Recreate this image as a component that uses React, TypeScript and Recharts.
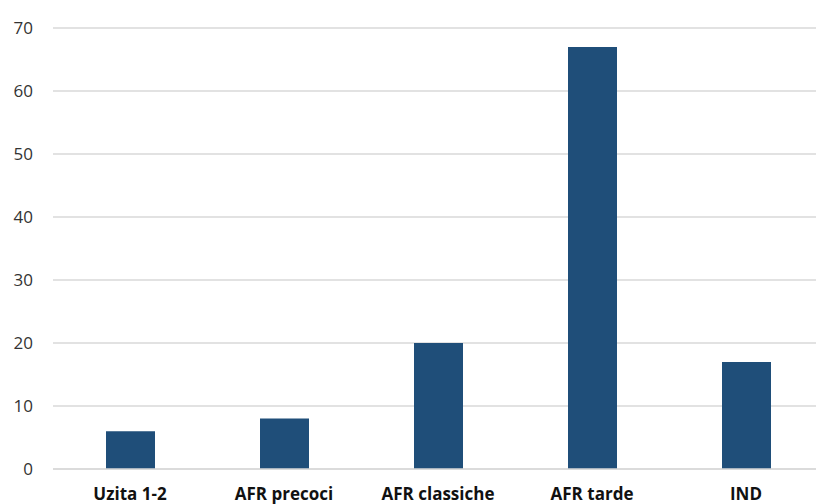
import React from "react";
import { BarChart, Bar, XAxis, YAxis, CartesianGrid } from "recharts";

const categories = ["Uzita 1-2", "AFR precoci", "AFR classiche", "AFR tarde", "IND"];
const values = [6, 8, 20, 67, 17];
const yTicks = [0, 10, 20, 30, 40, 50, 60, 70];

const data = categories.map((name, i) => ({ name, value: values[i] }));

export default function App() {
  return (
    <div style={{ position: "absolute", left: 0, top: 0, width: 900, height: 504 }}>
      <style>{"html,body{overflow:hidden;margin:0}"}</style>
      <BarChart
        width={832}
        height={504}
        data={data}
        margin={{ top: 28, right: 9, bottom: 0, left: 8 }}
      >
        <CartesianGrid vertical={false} stroke="#d9d9d9" strokeWidth={1.5} />
        <XAxis
          dataKey="name"
          axisLine={{ stroke: "#d9d9d9", strokeWidth: 1.5 }}
          tickLine={false}
          height={35}
          interval={0}
          tickMargin={13}
          tick={{ fill: "#111", fontSize: 17, fontWeight: "bold", fontFamily: "Open Sans" }}
        />
        <YAxis
          domain={[0, 70]}
          ticks={yTicks}
          axisLine={false}
          tickLine={false}
          width={45}
          tickMargin={14}
          tick={{ fill: "#333", fontSize: 17, fontFamily: "Open Sans" }}
        />
        <Bar dataKey="value" fill="#1F4E79" barSize={49} isAnimationActive={false} />
      </BarChart>
    </div>
  );
}
